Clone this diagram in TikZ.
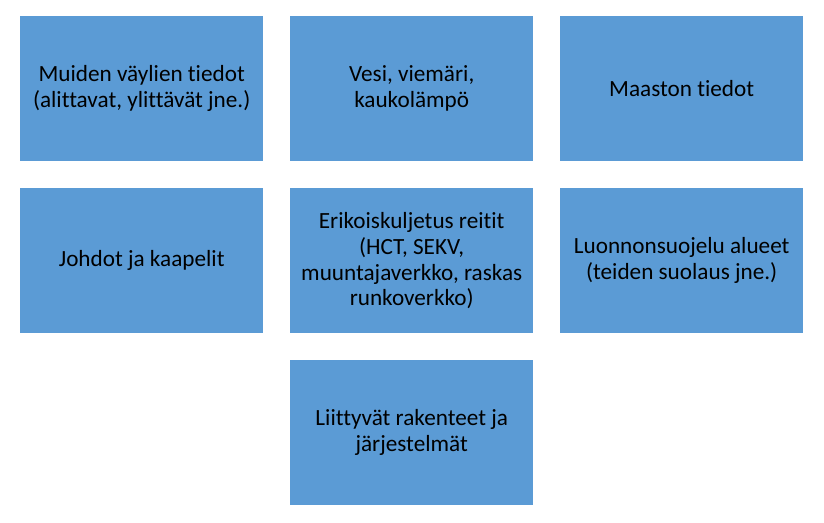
\documentclass[tikz,border=0pt]{standalone}
\usepackage{fontspec}
\setmainfont{Carlito}[Ligatures=NoCommon]
\definecolor{boxblue}{HTML}{5B9BD5}
\begin{document}
\begin{tikzpicture}[x=1pt,y=-1pt,
  tile/.style={fill=boxblue,draw=none,minimum width=243pt,minimum height=145pt,inner sep=0pt,anchor=north west,align=center,font=\fontsize{23.2}{25.8}\selectfont,text=black}]
\useasboundingbox[fill=white] (0,0) rectangle (824,522);
\node[tile] (a) at (20,16) {Muiden väylien tiedot\\(alittavat, ylittävät jne.)};
\node[tile] (b) at (290,16) {Vesi, viemäri,\\kaukolämpö};
\node[tile] (c) at (560,16) {Maaston tiedot};
\node[tile] (d) at (20,188) {Johdot ja kaapelit};
\node[tile] (e) at (290,188) {Erikoiskuljetus reitit\\(HCT, SEKV,\\muuntajaverkko, raskas\\runkoverkko)};
\node[tile] (f) at (560,188) {Luonnonsuojelu alueet\\(teiden suolaus jne.)};
\node[tile] (g) at (290,360) {Liittyvät rakenteet ja\\järjestelmät};
\end{tikzpicture}
\end{document}
